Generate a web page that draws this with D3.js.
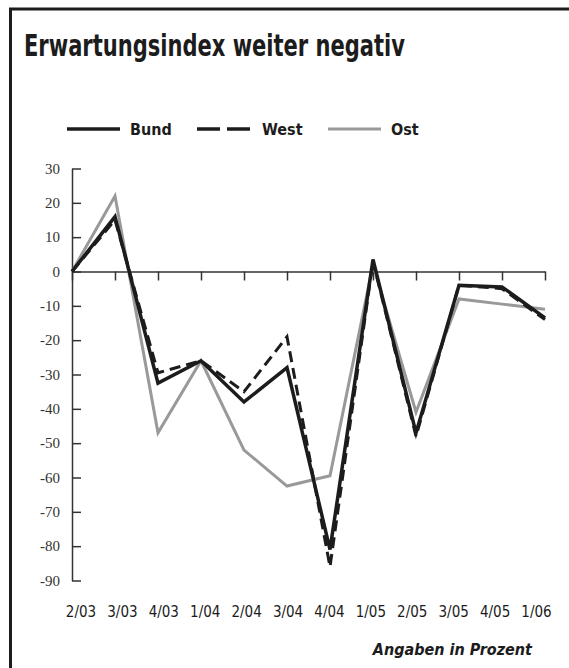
<!DOCTYPE html>
<html>
<head>
  <meta charset="utf-8">
  <title>Erwartungsindex</title>
  <script src="https://cdn.jsdelivr.net/npm/d3@7"></script>
  <style>
    body { margin: 0; background: #fff; }
    .cond { font-family: "Liberation Sans Narrow", "DejaVu Sans Condensed", "Roboto Condensed", sans-serif; }
  </style>
</head>
<body>
  <svg width="569" height="668" id="mainsvg"></svg>
  <script>
    // data
    const quarters = ['2/03', '3/03', '4/03', '1/04', '2/04', '3/04', '4/04', '1/05', '2/05', '3/05', '4/05', '1/06'];
    const bund = [0, 16, -32.5, -26, -38, -28, -81, 3.5, -47, -4, -4.5, -13.5];
    const west = [0, 15, -29.5, -26, -35, -19, -86, 3, -48, -4, -5, -14];
    const ost = [0, 22, -47, -26, -52, -62.5, -59.5, 2, -41, -8, -9.5, -11];
    const yTicks = [30, 20, 10, 0, -10, -20, -30, -40, -50, -60, -70, -80, -90];

    const svg = d3.select('#mainsvg');
    const ink = '#1c1c1c';

    // frame: top and left rule
    svg.append('line').attr('x1', 9).attr('x2', 569).attr('y1', 9).attr('y2', 9)
      .attr('stroke', ink).attr('stroke-width', 3);
    svg.append('line').attr('x1', 10.5).attr('x2', 10.5).attr('y1', 8).attr('y2', 668)
      .attr('stroke', ink).attr('stroke-width', 3);

    svg.append('text').attr('class', 'cond')
      .attr('x', 24).attr('y', 56)
      .attr('font-size', 31).attr('font-weight', 'bold').attr('fill', ink)
      .attr('textLength', 381).attr('lengthAdjust', 'spacingAndGlyphs')
      .text('Erwartungsindex weiter negativ');

    const x = d3.scalePoint().domain(quarters).range([72, 545]);
    const y = d3.scaleLinear().domain([-90, 30]).range([580.5, 168.5]);

    // axes
    const yAxis = d3.axisLeft(y).tickValues(yTicks).tickFormat(d => String(d))
      .tickSizeInner(-9).tickSizeOuter(0).tickPadding(12);
    const yg = svg.append('g').attr('transform', 'translate(72,0)').call(yAxis);
    yg.selectAll('path, line').attr('stroke', '#333').attr('stroke-width', 1.5);
    yg.selectAll('text').attr('font-family', '"Liberation Serif", "DejaVu Serif", serif')
      .attr('font-size', 15).attr('fill', '#333');

    const xAxis = d3.axisBottom(x).tickSize(9).tickSizeOuter(0).tickFormat('');
    const xg = svg.append('g').attr('transform', `translate(0,${y(0)})`).call(xAxis);
    xg.selectAll('path, line').attr('stroke', '#333').attr('stroke-width', 1.5);

    // quarter labels sit on a slightly narrower span than the ticks
    const xLab = d3.scalePoint().domain(quarters).range([81, 536.5]);
    svg.append('g').selectAll('text').data(quarters).join('text')
      .attr('class', 'cond')
      .attr('x', d => xLab(d)).attr('y', 617)
      .attr('text-anchor', 'middle').attr('font-size', 15).attr('fill', ink)
      .text(d => d);

    const line = d3.line().x((d, i) => x(quarters[i])).y(d => y(d));

    const series = [
      { name: 'Ost', values: ost, color: '#999', width: 3, dash: null },
      { name: 'West', values: west, color: ink, width: 3, dash: '11,6' },
      { name: 'Bund', values: bund, color: ink, width: 3.5, dash: null }
    ];

    svg.append('g').selectAll('path').data(series).join('path')
      .attr('d', d => line(d.values))
      .attr('fill', 'none')
      .attr('stroke', d => d.color)
      .attr('stroke-width', d => d.width)
      .attr('stroke-dasharray', d => d.dash)
      .attr('stroke-linejoin', 'miter');

    // legend
    const legend = [
      { name: 'Bund', x1: 67, x2: 120, tx: 130, color: ink, width: 3.5, dash: null },
      { name: 'West', x1: 197, x2: 251, tx: 262, color: ink, width: 3.5, dash: '23,7' },
      { name: 'Ost', x1: 328, x2: 381, tx: 391, color: '#999', width: 3, dash: null }
    ];
    const lg = svg.append('g').selectAll('g').data(legend).join('g');
    lg.append('line')
      .attr('x1', d => d.x1).attr('x2', d => d.x2).attr('y1', 129).attr('y2', 129)
      .attr('stroke', d => d.color).attr('stroke-width', d => d.width)
      .attr('stroke-dasharray', d => d.dash);
    lg.append('text').attr('class', 'cond')
      .attr('x', d => d.tx).attr('y', 135)
      .attr('font-size', 16).attr('font-weight', 'bold').attr('fill', ink)
      .text(d => d.name);

    svg.append('text').attr('class', 'cond')
      .attr('x', 532).attr('y', 655).attr('text-anchor', 'end')
      .attr('font-size', 16).attr('font-weight', 'bold').attr('font-style', 'italic').attr('fill', ink)
      .text('Angaben in Prozent');
  </script>
</body>
</html>
